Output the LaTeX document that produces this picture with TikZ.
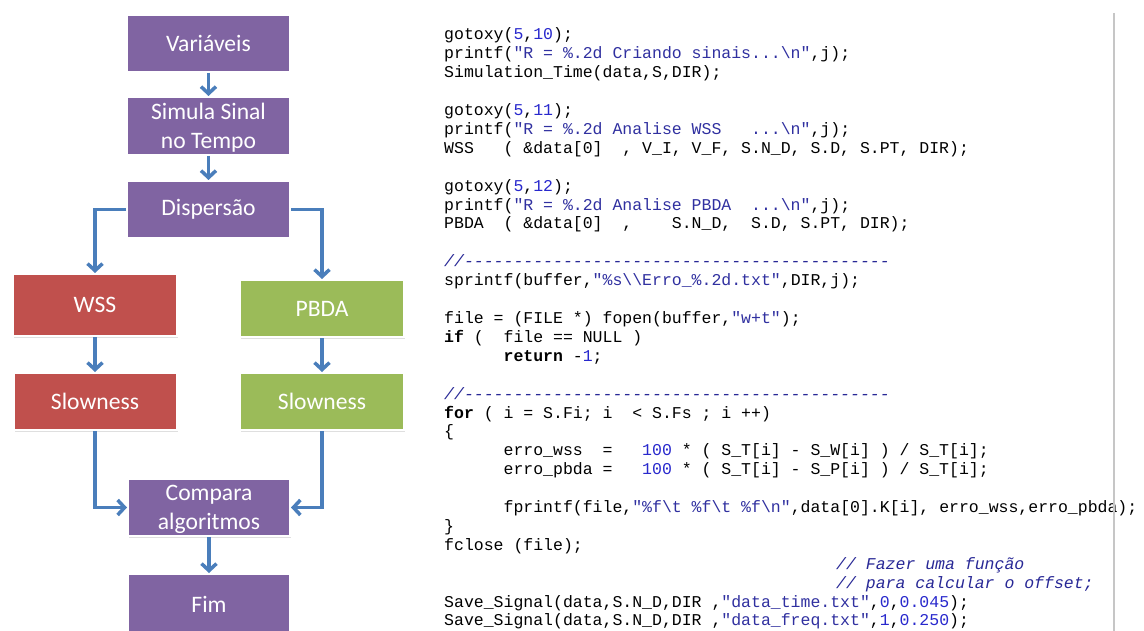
\documentclass[tikz,border=0pt]{standalone}
\usepackage{fontspec}
\setmainfont{Carlito}
\setmonofont{Liberation Mono}
\usepackage{tikz}
\usetikzlibrary{arrows.meta, shadows}

\definecolor{boxpurple}{HTML}{8064A2}
\definecolor{boxred}{HTML}{C0504D}
\definecolor{boxgreen}{HTML}{9BBB59}
\definecolor{flowblue}{HTML}{4A7EBB}
\definecolor{codestr}{RGB}{48,48,160}
\definecolor{codenum}{RGB}{40,40,205}
\definecolor{codecmt}{RGB}{40,40,150}

% pieces of the listing
\newcommand{\cs}[1]{\textcolor{codestr}{#1}}
\newcommand{\cn}[1]{\textcolor{codenum}{#1}}
\newcommand{\cc}[1]{\textcolor{codecmt}{\itshape #1}}
\newcommand{\kw}[1]{\textbf{#1}}
\newcommand{\codefont}{\ttfamily\fontsize{16.5}{19}\selectfont}

\begin{document}
\begin{tikzpicture}[x=1pt, y=-1pt,
    box/.style={draw=white, line width=2pt, text=white, inner sep=0pt,
      minimum width=163, minimum height=57, align=center,
      font=\fontsize{23.6}{29}\selectfont,
      drop shadow={shadow xshift=1pt, shadow yshift=-1.5pt, opacity=0.25, fill=gray}},
    twoline/.style={text depth=-3.3pt},
    flow/.style={draw=flowblue, line width=3.5pt,
      -{Straight Barb[length=7pt, width=15pt]}},
    code/.style={font=\codefont, anchor=base west, inner sep=0pt}]
  \fill[white] (0,0) rectangle (1144,631);
  \useasboundingbox (0,0) rectangle (1144,631);

  % flow chart
  \node[box, fill=boxpurple] (var) at (208.5,43.5) {Variáveis};
  \node[box, twoline, fill=boxpurple, minimum height=58] (sim) at (208.5,126) {Simula Sinal\\no Tempo};
  \node[box, fill=boxpurple] (disp) at (208.5,209.5) {Dispersão};
  \node[box, fill=boxred, minimum width=164, minimum height=62] (wss) at (95,305) {WSS};
  \node[box, fill=boxgreen, minimum width=164] (pbda) at (322,308.5) {PBDA};
  \node[box, fill=boxred] (slw) at (95,401.5) {Slowness};
  \node[box, fill=boxgreen, minimum width=164] (slp) at (322,401.5) {Slowness};
  \node[box, twoline, fill=boxpurple, minimum width=162] (comp) at (209,507.5) {Compara\\algoritmos};
  \node[box, fill=boxpurple, minimum width=162, minimum height=60] (fim) at (209,604) {Fim};

  \draw[flow] (var) -- (sim);
  \draw[flow] (sim) -- (disp);
  \draw[flow] (disp.west) -| (wss.north);
  \draw[flow] (disp.east) -| (pbda.north);
  \draw[flow] (wss) -- (slw);
  \draw[flow] (pbda) -- (slp);
  \draw[flow] (slw.south) |- (comp.west);
  \draw[flow] (slp.south) |- (comp.east);
  \draw[flow] (comp) -- (fim);

  % listing
  \node[code] (c1) at (444,40.0) {gotoxy(\cn{5},\cn{10});};
  \node[code] (c2) at (444,58.9) {printf(\cs{"R = \%.2d Criando sinais...\textbackslash n"},j);};
  \node[code] (c3) at (444,77.8) {Simulation\_Time(data,S,DIR);};
  \node[code] (c4) at (444,115.6) {gotoxy(\cn{5},\cn{11});};
  \node[code] (c5) at (444,134.5) {printf(\cs{"R = \%.2d Analise WSS~~~...\textbackslash n"},j);};
  \node[code] (c6) at (444,153.4) {WSS~~~( \&data[0]~~, V\_I, V\_F, S.N\_D, S.D, S.PT, DIR);};
  \node[code] (c7) at (444,191.2) {gotoxy(\cn{5},\cn{12});};
  \node[code] (c8) at (444,210.1) {printf(\cs{"R = \%.2d Analise PBDA~~...\textbackslash n"},j);};
  \node[code] (c9) at (444,229.0) {PBDA~~( \&data[0]~~,~~~~S.N\_D,~~S.D, S.PT, DIR);};
  \node[code] (c10) at (444,266.8) {\cc{//-------------------------------------------}};
  \node[code] (c11) at (444,285.7) {sprintf(buffer,\cs{"\%s\textbackslash\textbackslash Erro\_\%.2d.txt"},DIR,j);};
  \node[code] (c12) at (444,323.5) {file = (FILE *) fopen(buffer,\cs{"w+t"});};
  \node[code] (c13) at (444,342.4) {\kw{if} (~~file == NULL )};
  \node[code] (c14) at (503.4,361.3) {\kw{return} -\cn{1};};
  \node[code] (c15) at (444,399.1) {\cc{//-------------------------------------------}};
  \node[code] (c16) at (444,418.0) {\kw{for} ( i = S.Fi; i~~< S.Fs ; i ++)};
  \node[code] (c17) at (444,436.9) {\{};
  \node[code] (c18) at (503.4,455.8) {erro\_wss~~=~~~\cn{100} * ( S\_T[i] - S\_W[i] ) / S\_T[i];};
  \node[code] (c19) at (503.4,474.7) {erro\_pbda =~~~\cn{100} * ( S\_T[i] - S\_P[i] ) / S\_T[i];};
  \node[code] (c20) at (503.4,512.5) {fprintf(file,\cs{"\%f\textbackslash t \%f\textbackslash t \%f\textbackslash n"},data[0].K[i], erro\_wss,erro\_pbda);};
  \node[code] (c21) at (444,531.4) {\}};
  \node[code] (c22) at (444,550.3) {fclose (file);};
  \node[code] (c23) at (836,569.2) {\cc{// Fazer uma função}};
  \node[code] (c24) at (836,588.1) {\cc{// para calcular o offset;}};
  \node[code] (c25) at (444,607.0) {Save\_Signal(data,S.N\_D,DIR ,\cs{"data\_time.txt"},\cn{0},\cn{0.045});};
  \node[code] (c26) at (444,625.9) {Save\_Signal(data,S.N\_D,DIR ,\cs{"data\_freq.txt"},\cn{1},\cn{0.250});};

  % editor margin
  \draw[gray!45, line width=1.2pt] (1114,13) -- (1114,631);
\end{tikzpicture}
\end{document}
